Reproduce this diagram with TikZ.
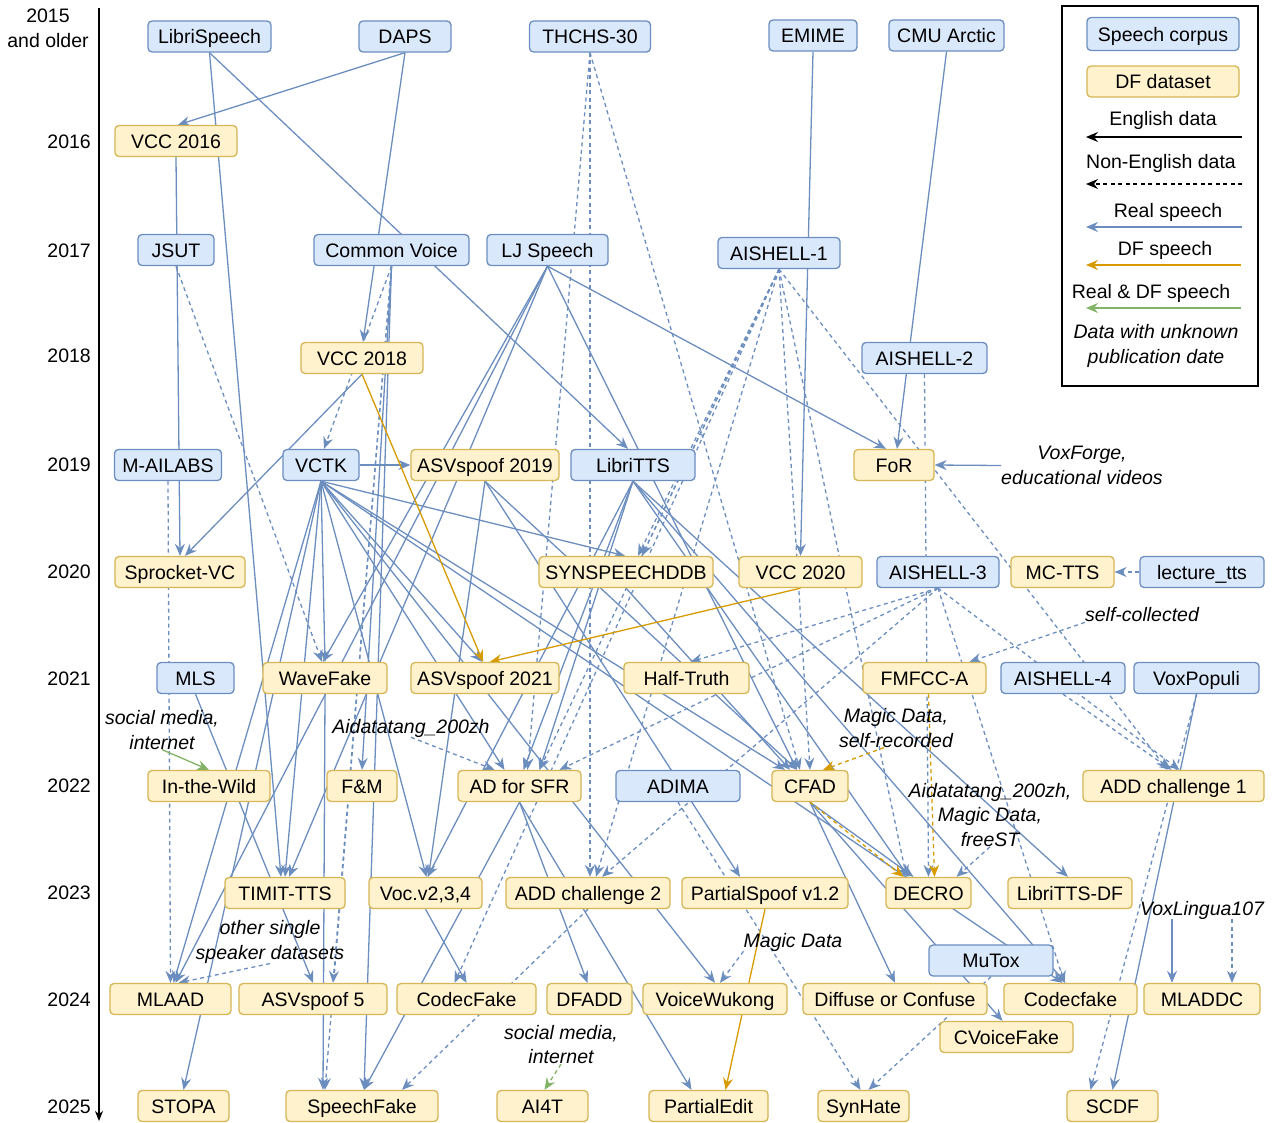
\documentclass[tikz,border=0pt]{standalone}
\usepackage{fontspec}
\setmainfont{Liberation Sans}
\usetikzlibrary{arrows.meta,backgrounds,calc}
\definecolor{bfill}{HTML}{DAE8FC}
\definecolor{bdraw}{HTML}{6C8EBF}
\definecolor{yfill}{HTML}{FFF2CC}
\definecolor{ydraw}{HTML}{D6B656}
\definecolor{org}{HTML}{D79B00}
\definecolor{grn}{HTML}{82B366}
\begin{document}
\begin{tikzpicture}[x=1pt,y=-1pt,
  box/.style={rounded corners=4pt, line width=1.3pt, minimum height=31pt, inner sep=0pt,
    font=\fontsize{19.5}{23}\selectfont, text height=18pt, text depth=4pt},
  corp/.style={box, fill=bfill, draw=bdraw},
  dfd/.style={box, fill=yfill, draw=ydraw},
  lbl/.style={font=\fontsize{19.5}{24.5}\selectfont\itshape, align=center, inner sep=0pt},
  plain/.style={font=\fontsize{19.5}{24.5}\selectfont, align=center, inner sep=0pt},
  yr/.style={font=\fontsize{19.5}{24.5}\selectfont, anchor=east, inner sep=0pt, text height=18pt, text depth=4pt},
  tip/.style={-{Stealth[length=12pt,width=10pt,inset=4pt]}},
  real/.style={draw=bdraw, line width=1.3pt, tip},
  ne/.style={dash pattern=on 4pt off 3.5pt},
  dfs/.style={draw=org, line width=1.3pt, tip},
  mix/.style={draw=grn, line width=1.3pt, tip},
  blk/.style={draw=black, line width=1.3pt, tip},
]
\useasboundingbox (0,0) rectangle (1274,1122);

% ---------- timeline ----------
\coordinate (axtop) at (99,8);
\coordinate (axbot) at (99,1121);
\draw[line width=1.5pt,-{Stealth[length=10pt,width=8pt,inset=3pt]}] (axtop) -- (axbot);
\node[plain] (y2015) at (48,28.5) {2015\\and older};
\node[yr] (y2016) at (91,141) {2016};
\node[yr] (y2017) at (91,250) {2017};
\node[yr] (y2018) at (91,355) {2018};
\node[yr] (y2019) at (91,464) {2019};
\node[yr] (y2020) at (91,571) {2020};
\node[yr] (y2021) at (91,678) {2021};
\node[yr] (y2022) at (91,785) {2022};
\node[yr] (y2023) at (91,892) {2023};
\node[yr] (y2024) at (91,999) {2024};
\node[yr] (y2025) at (91,1106) {2025};

% ---------- nodes ----------
\node[corp,minimum width=123pt] (librispeech) at (209.5,36.5) {LibriSpeech};
\node[corp,minimum width=92pt] (daps) at (405,36.5) {DAPS};
\node[corp,minimum width=121pt] (thchs) at (590,36.5) {THCHS-30};
\node[corp,minimum width=88pt] (emime) at (813,35.5) {EMIME};
\node[corp,minimum width=115pt] (cmu) at (946.5,35.5) {CMU Arctic};
\node[dfd,minimum width=122pt] (vcc16) at (176,141) {VCC 2016};
\node[corp,minimum width=76pt] (jsut) at (176,250) {JSUT};
\node[corp,minimum width=155pt] (cv) at (391.5,250) {Common Voice};
\node[corp,minimum width=121pt] (lj) at (547.5,250) {LJ Speech};
\node[corp,minimum width=122pt] (ai1) at (779,253) {AISHELL-1};
\node[dfd,minimum width=122pt] (vcc18) at (362,358) {VCC 2018};
\node[corp,minimum width=125pt] (ai2) at (924.5,358) {AISHELL-2};
\node[corp,minimum width=107pt] (mailabs) at (168,465) {M-AILABS};
\node[corp,minimum width=76pt] (vctk) at (321,465) {VCTK};
\node[dfd,minimum width=148pt] (asv19) at (485,465) {ASVspoof 2019};
\node[corp,minimum width=124pt] (libritts) at (633,465) {LibriTTS};
\node[dfd,minimum width=80pt] (for) at (894,465) {FoR};
\node[dfd,minimum width=130pt] (sprocket) at (180,572) {Sprocket-VC};
\node[dfd,minimum width=174pt] (synspeech) at (626,572) {SYNSPEECHDDB};
\node[dfd,minimum width=123pt] (vcc20) at (800.5,572) {VCC 2020};
\node[corp,minimum width=122pt] (ai3) at (938,572) {AISHELL-3};
\node[dfd,minimum width=103pt] (mctts) at (1062.5,572) {MC-TTS};
\node[corp,minimum width=124pt] (lecture) at (1202,572) {lecture\_tts};
\node[corp,minimum width=77pt] (mls) at (195.5,678) {MLS};
\node[dfd,minimum width=124pt] (wavefake) at (325,678) {WaveFake};
\node[dfd,minimum width=148pt] (asv21) at (485,678) {ASVspoof 2021};
\node[dfd,minimum width=125pt] (halftruth) at (686.5,678) {Half-Truth};
\node[dfd,minimum width=123pt] (fmfcc) at (924.5,678) {FMFCC-A};
\node[corp,minimum width=124pt] (ai4) at (1063,678) {AISHELL-4};
\node[corp,minimum width=125pt] (voxpopuli) at (1196.5,678) {VoxPopuli};
\node[dfd,minimum width=122pt] (itw) at (209,786) {In-the-Wild};
\node[dfd,minimum width=70pt] (fm) at (362,786) {F\&M};
\node[dfd,minimum width=123pt] (adsfr) at (519.5,786) {AD for SFR};
\node[corp,minimum width=124pt] (adima) at (678,786) {ADIMA};
\node[dfd,minimum width=76pt] (cfad) at (810,786) {CFAD};
\node[dfd,minimum width=181pt] (add1) at (1173.5,786) {ADD challenge 1};
\node[dfd,minimum width=120pt] (timit) at (285,893) {TIMIT-TTS};
\node[dfd,minimum width=113pt] (voc) at (425.5,893) {Voc.v2,3,4};
\node[dfd,minimum width=164pt] (add2) at (588,893) {ADD challenge 2};
\node[dfd,minimum width=166pt] (ps) at (765,893) {PartialSpoof v1.2};
\node[dfd,minimum width=85pt] (decro) at (928.5,893) {DECRO};
\node[dfd,minimum width=124pt] (librittsdf) at (1070,893) {LibriTTS-DF};
\node[corp,minimum width=124pt] (mutox) at (991,960.5) {MuTox};
\node[dfd,minimum width=121pt] (mlaad) at (170.5,999) {MLAAD};
\node[dfd,minimum width=148pt] (asv5) at (313,999) {ASVspoof 5};
\node[dfd,minimum width=139pt] (codecfake) at (466.5,999) {CodecFake};
\node[dfd,minimum width=85pt] (dfadd) at (589.5,999) {DFADD};
\node[dfd,minimum width=144pt] (wukong) at (715,999) {VoiceWukong};
\node[dfd,minimum width=184pt] (doc) at (895,999) {Diffuse or Confuse};
\node[dfd,minimum width=133pt] (codecfake2) at (1070.5,999) {Codecfake};
\node[dfd,minimum width=116pt] (mladdc) at (1202,999) {MLADDC};
\node[dfd,minimum width=133pt] (cvoice) at (1006.5,1037) {CVoiceFake};
\node[dfd,minimum width=91pt] (stopa) at (183.5,1106) {STOPA};
\node[dfd,minimum width=152pt] (speechfake) at (362,1106) {SpeechFake};
\node[dfd,minimum width=91pt] (ai4t) at (542.5,1106) {AI4T};
\node[dfd,minimum width=119pt] (partialedit) at (708.5,1106) {PartialEdit};
\node[dfd,minimum width=91pt] (synhate) at (863.5,1106) {SynHate};
\node[dfd,minimum width=91pt] (scdf) at (1112.5,1106) {SCDF};

% ---------- free labels ----------
\node[lbl] (lvox) at (1082,465.5) {VoxForge,\\educational videos};
\node[lbl] (lself) at (1142,615) {self-collected};
\node[lbl] (lsm1) at (162,730) {social media,\\internet};
\node[lbl] (laida) at (411,728) {Aidatatang\_200zh};
\node[lbl] (lmagic1) at (896,728) {Magic Data,\\self-recorded};
\node[lbl] (laida2) at (990,815) {Aidatatang\_200zh,\\Magic Data,\\freeST};
\node[lbl] (lother) at (270,942) {other single\\speaker datasets};
\node[lbl] (lmagic2) at (793,942) {Magic Data};
\node[lbl] (lsm2) at (561,1044.5) {social media,\\internet};
\node[lbl] (lvoxling) at (1202,910) {VoxLingua107};

% ---------- legend ----------
\node[draw=black, line width=1.3pt, minimum width=196pt, minimum height=380pt, inner sep=0pt] (legend) at (1160,196) {};
\node[corp,minimum width=152pt,minimum height=33pt] (lgc) at (1163,34) {Speech corpus};
\node[dfd,minimum width=152pt] (lgd) at (1163,81.5) {DF dataset};
\node[plain] (lge) at (1163,120) {English data};
\node[plain] (lgn) at (1161,163) {Non-English data};
\node[plain] (lgr) at (1168,212) {Real speech};
\node[plain] (lgf) at (1165,250) {DF speech};
\node[plain] (lgm) at (1151,293) {Real \& DF speech};
\node[lbl] (lgu) at (1156,346) {Data with unknown\\publication date};
\coordinate (le1) at (1242,137); \coordinate (le2) at (1086,137);
\coordinate (ln1) at (1242,184); \coordinate (ln2) at (1086,184);
\coordinate (lr1) at (1242,227); \coordinate (lr2) at (1086,227);
\coordinate (lf1) at (1241,265); \coordinate (lf2) at (1086,265);
\coordinate (lm1) at (1241,308); \coordinate (lm2) at (1086,308);
\draw[blk] (le1) -- (le2);
\draw[blk,ne] (ln1) -- (ln2);
\draw[real] (lr1) -- (lr2);
\draw[dfs] (lf1) -- (lf2);
\draw[mix] (lm1) -- (lm2);

% ---------- connectors ----------
\begin{pgfonlayer}{background}
% real, English
\draw[real] (librispeech.south) -- ([xshift=-4pt]timit.north);
\draw[real] (librispeech.south) -- ([xshift=-5pt]libritts.north);
\draw[real] (daps.south) -- ([xshift=2pt]vcc16.north);
\draw[real] (daps.south) -- ([xshift=1pt]vcc18.north);
\draw[real] (emime.south) -- (vcc20.north);
\draw[real] (cmu.south) -- ([xshift=3pt]for.north);
\draw[real] (vcc16.south) -- (sprocket.north);
\draw[real] (vcc18.south) -- ([xshift=5pt]sprocket.north);
\draw[real] (cv.south) -- (fm.north);
\draw[real] (cv.south) -- ([xshift=2pt]speechfake.north);
\draw[real] (lj.south) -- ([xshift=-2pt]wavefake.north);
\draw[real] (lj.south) -- ([xshift=5pt]mlaad.north);
\draw[real] (lj.south) -- ([xshift=4pt]timit.north);
\draw[real] (lj.south) -- ([xshift=-8pt]for.north);
\draw[real] (lj.south) -- ([xshift=-13pt]cfad.north);
\draw[real] (vctk.east) -- (asv19.west);
\draw[real] (vctk.south) -- ([xshift=-1pt]synspeech.north);
\draw[real] (vctk.south) -- (wavefake.north);
\draw[real] (vctk.south) -- ([xshift=3pt]mlaad.north);
\draw[real] (vctk.south) -- (timit.north);
\draw[real] (vctk.south) -- ([xshift=1pt]voc.north);
\draw[real] (vctk.south) -- ([xshift=-3pt]asv21.north);
\draw[real] (vctk.south) -- ([xshift=-15pt]adsfr.north);
\draw[real] (vctk.south) -- (wukong.north);
\draw[real] (vctk.south) -- ([xshift=-8pt]codecfake2.north);
\draw[real] (vctk.south) -- (stopa.north);
\draw[real] (vctk.south) -- ([xshift=-25pt]cfad.north);
\draw[real] (wavefake.south) -- ([xshift=-39pt]speechfake.north);
\draw[real] (asv19.south) -- ([xshift=3pt]voc.north);
\draw[real] (asv19.south) -- ([xshift=-25pt]ps.north);
\draw[real] (asv19.south) -- ([xshift=-13pt]cfad.north);
\draw[real] (libritts.south) -- ([xshift=20pt]adsfr.north);
\draw[real] (libritts.south) -- ([xshift=4pt]adsfr.north);
\draw[real] (libritts.south) -- ([xshift=2pt]voc.north);
\draw[real] (libritts.south) -- ([xshift=-20pt]decro.north);
\draw[real] (libritts.south) -- ([xshift=-2pt]librittsdf.north);
\draw[real] (libritts.south) -- ([xshift=-5pt]codecfake2.north);
\draw[real] (synspeech.south) -- ([xshift=-20pt]cfad.north);
\draw[real] (mls.south) -- (asv5.north);
\draw[real] (voc.south) -- (codecfake.north);
\draw[real] (adsfr.south) -- ([xshift=-2pt]dfadd.north);
\draw[real] (adsfr.south) -- ([xshift=-17pt]partialedit.north);
\draw[real] (adsfr.south) -- ([xshift=2pt]speechfake.north);
\draw[real] (cfad.south) -- ([xshift=-15pt]decro.north);
\draw[real] (cfad.south) -- (doc.north);
\draw[real] (cfad.south) -- ([xshift=-4pt]cvoice.north);
\draw[real] (voxpopuli.south) -- (scdf.north);
% non-English
\draw[real,ne] (jsut.south) -- ([xshift=-3pt]wavefake.north);
\draw[real,ne] (mailabs.south) -- (mlaad.north);
\draw[real,ne] (cv.south) -- ([xshift=3pt]vctk.north);
\draw[real,ne] (cv.south) -- ([xshift=20pt]asv5.north);
\draw[real,ne] (cv.south) -- ([xshift=-37pt]speechfake.north);
\draw[real,ne] (thchs.south) -- ([xshift=8pt]adsfr.north);
\draw[real,ne] (thchs.south) -- ([xshift=2pt]add2.north);
\draw[real,ne] (thchs.south) -- ([xshift=-10pt]cfad.north);
\draw[real,ne] (ai1.south) -- ([xshift=12pt]synspeech.north);
\draw[real,ne] (ai1.south) -- ([xshift=16pt]synspeech.north);
\draw[real,ne] (ai1.south) -- ([xshift=20pt]adsfr.north);
\draw[real,ne] (ai1.south) -- ([xshift=8pt]add2.north);
\draw[real,ne] (ai1.south) -- (cfad.north);
\draw[real,ne] (ai1.south) -- ([xshift=-22pt]decro.north);
\draw[real,ne] (ai1.south) -- ([xshift=-6pt]add1.north);
\draw[real,ne] (ai1.south) -- ([xshift=-12pt]codecfake.north);
\draw[real,ne] (ai2.south) -- (decro.north);
\draw[real,ne] (ai3.south) -- ([xshift=4pt]halftruth.north);
\draw[real,ne] (ai3.south) -- ([xshift=40pt]adsfr.north);
\draw[real,ne] (ai3.south) -- ([xshift=14pt]add2.north);
\draw[real,ne] (ai3.south) -- ([xshift=6pt]add1.north);
\draw[real,ne] (ai3.south) -- ([xshift=-6pt]codecfake2.north);
\draw[real,ne] (ai4.south) -- ([xshift=-2pt]add1.north);
\draw[real,ne] (lecture.west) -- (mctts.east);
\draw[real,ne] (adima.south) -- ([xshift=-3pt]synhate.north);
\draw[real,ne] (mutox.south) -- ([xshift=5pt]synhate.north);
\draw[real,ne] (add2.south) -- ([xshift=40pt]speechfake.north);
\draw[real,ne] (voxpopuli.south) -- ([xshift=-22pt]scdf.north);
% labels
\draw[real] (lvox.west) -- (for.east);
\draw[real,ne] (lself.south west) -- ([xshift=45pt]fmfcc.north);
\draw[mix] (lsm1.south) -- (itw.north);
\draw[real,ne] (laida.south) -- ([xshift=-25pt]adsfr.north);
\draw[dfs,ne] ([xshift=-12pt]lmagic1.south) -- ([xshift=13pt]cfad.north);
\draw[real,ne] (laida2.south) -- ([xshift=28pt]decro.north);
\draw[real,ne] (lother.south) -- ([xshift=8pt]mlaad.north);
\draw[real,ne] (lmagic2.south west) -- ([xshift=5pt]wukong.north);
\draw[mix,ne] (lsm2.south) -- ([xshift=2pt]ai4t.north);
\draw[real] ([xshift=-30pt]lvoxling.south) -- ([xshift=-30pt]mladdc.north);
\draw[real,ne] ([xshift=30pt]lvoxling.south) -- ([xshift=30pt]mladdc.north);
% DF speech
\draw[dfs] (vcc18.south) -- ([xshift=-2pt]asv21.north);
\draw[dfs] (vcc20.south) -- ([xshift=5pt]asv21.north);
\draw[dfs] (ps.south) -- ([xshift=17pt]partialedit.north);
\draw[dfs,ne] (cfad.south) -- ([xshift=-25pt]decro.north);
\draw[dfs,ne] ([xshift=4pt]fmfcc.south) -- ([xshift=6pt]decro.north);
\end{pgfonlayer}
\end{tikzpicture}
\end{document}
